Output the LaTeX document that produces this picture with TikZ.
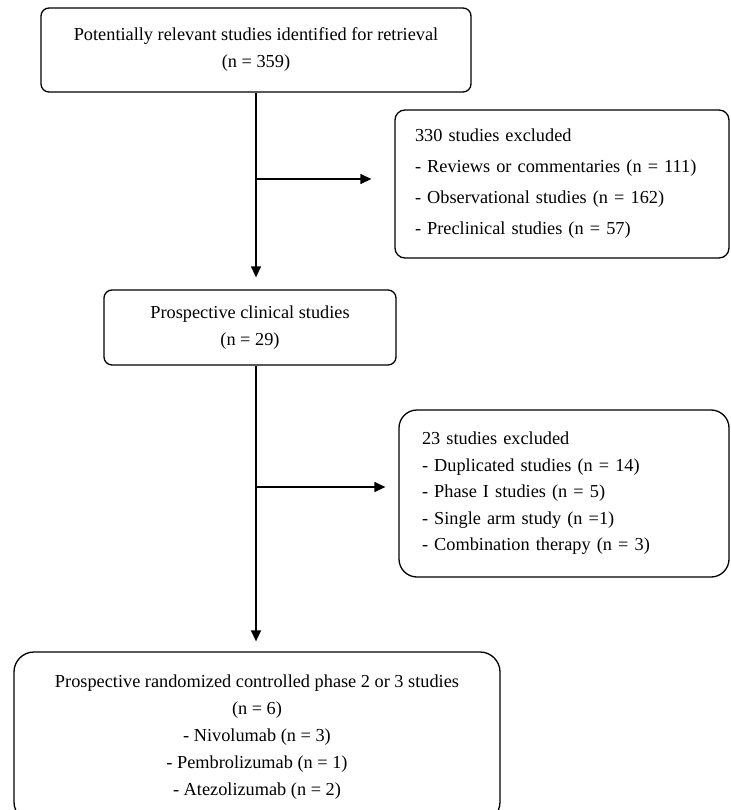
\documentclass[tikz,border=0pt]{standalone}
\usepackage{fontspec}
\setmainfont{Liberation Serif}
\usetikzlibrary{arrows.meta}

\begin{document}
\begin{tikzpicture}[x=1pt, y=-1pt,
  box/.style={draw, line width=1.3pt, rounded corners=8pt, inner sep=0pt,
    align=center, font=\fontsize{18.3}{27}\selectfont},
  listbox/.style={box, align=left},
  flow/.style={line width=1.3pt, -{Triangle[length=11pt, width=10pt]}}]
  \useasboundingbox (0,0) rectangle (730,810);

  % main column
  \node[box, minimum width=430pt, minimum height=84pt] (ident) at (256,50)
    {Potentially relevant studies identified for retrieval\\(n = 359)};
  \node[box, minimum width=292pt, minimum height=75pt] (clin) at (250,327.5)
    {Prospective clinical studies\\(n = 29)};
  \node[box, rounded corners=20pt, minimum width=486pt, minimum height=170pt] (rct) at (257,737)
    {Prospective randomized controlled phase 2 or 3 studies\\(n = 6)\\- Nivolumab (n = 3)\\
     - Pembrolizumab (n = 1)\\- Atezolizumab (n = 2)};

  % exclusions
  \node[listbox, rounded corners=10pt, text width=294pt, inner xsep=20pt,
    minimum height=148pt, font=\fontsize{18.3}{31}\selectfont] (excl1) at (562,184)
    {330 studies excluded\\- Reviews or commentaries (n = 111)\\
     - Observational studies (n = 162)\\- Preclinical studies (n = 57)};
  \node[listbox, rounded corners=18pt, text width=284pt, inner xsep=23pt,
    minimum height=167pt, font=\fontsize{18.3}{26.5}\selectfont] (excl2) at (564,493.5)
    {23 studies excluded\\- Duplicated studies (n = 14)\\- Phase I studies (n = 5)\\
     - Single arm study (n =1)\\- Combination therapy (n = 3)};

  % connectors
  \coordinate (fork1) at (256,179);
  \coordinate (fork2) at (256,487);
  \draw[flow] (ident.south) -- ([yshift=12pt]ident.south |- clin.north);
  \draw[flow] (fork1) -- ([xshift=-23pt]fork1 -| excl1.west);
  \draw[flow] (ident.south |- clin.south) -- ([yshift=10pt]ident.south |- rct.north);
  \draw[flow] (fork2) -- ([xshift=-13pt]fork2 -| excl2.west);
\end{tikzpicture}
\end{document}
